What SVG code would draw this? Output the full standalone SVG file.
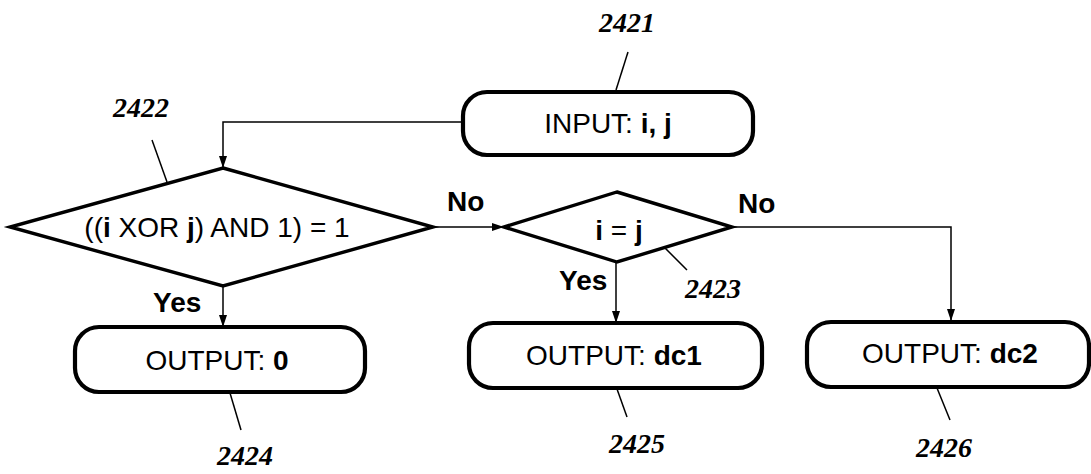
<svg xmlns="http://www.w3.org/2000/svg" width="1091" height="474" viewBox="0 0 1091 474">
  <style>
    .box { fill: #fff; stroke: #000; stroke-width: 4.2; }
    .dia { fill: #fff; stroke: #000; stroke-width: 3.4; stroke-linejoin: miter; }
    .wire { fill: none; stroke: #000; stroke-width: 1.5; }
    .lead { fill: none; stroke: #000; stroke-width: 1.5; }
    .t { font-family: "Liberation Sans", Arial, sans-serif; font-size: 28px; fill: #000; text-anchor: middle; }
    .b { font-weight: bold; }
    .lbl { font-family: "Liberation Sans", Arial, sans-serif; font-size: 28px; font-weight: bold; fill: #000; }
    .ref { font-family: "Liberation Serif", "Times New Roman", serif; font-size: 28px; font-weight: bold; font-style: italic; fill: #000; text-anchor: middle; }
  </style>
  <defs>
    <marker id="arrow" viewBox="0 0 12 8" refX="12" refY="4" markerWidth="12" markerHeight="8" markerUnits="userSpaceOnUse" orient="auto">
      <path d="M0,0 L12,4 L0,8 Z" fill="#000"/>
    </marker>
  </defs>

  <!-- connectors -->
  <g id="connectors">
    <polyline class="wire" points="463,122 223,122 223,168" marker-end="url(#arrow)"/>
    <line class="wire" x1="433" y1="227" x2="504" y2="227" marker-end="url(#arrow)"/>
    <line class="wire" x1="223" y1="286" x2="223" y2="327" marker-end="url(#arrow)"/>
    <line class="wire" x1="616" y1="262" x2="616" y2="323" marker-end="url(#arrow)"/>
    <polyline class="wire" points="732,227 951,227 951,321" marker-end="url(#arrow)"/>
    <text class="lbl" x="447" y="211">No</text>
    <text class="lbl" x="738" y="213">No</text>
    <text class="lbl" x="153" y="312">Yes</text>
    <text class="lbl" x="559" y="290">Yes</text>
  </g>

  <!-- start: input -->
  <g id="n2421">
    <rect class="box" x="463" y="92" width="290" height="63" rx="24" ry="24"/>
    <text class="t" x="608" y="133">INPUT: <tspan class="b">i, j</tspan></text>
    <line class="lead" x1="628" y1="52" x2="616" y2="90"/>
    <text class="ref" x="627" y="32">2421</text>
  </g>

  <!-- parity test -->
  <g id="n2422">
    <polygon class="dia" points="223,168 433,227 223,286 10,227"/>
    <text class="t" x="217" y="237">((<tspan class="b">i</tspan> XOR <tspan class="b">j</tspan>) AND 1) = 1</text>
    <line class="lead" x1="152" y1="140" x2="167" y2="182"/>
    <text class="ref" x="141" y="117">2422</text>
  </g>

  <!-- equality test -->
  <g id="n2423">
    <polygon class="dia" points="617,192 732,227 617,262 504,227"/>
    <text class="t" x="619" y="240"><tspan class="b">i</tspan> = <tspan class="b">j</tspan></text>
    <line class="lead" x1="665" y1="248" x2="687" y2="270"/>
    <text class="ref" x="713" y="298">2423</text>
  </g>

  <!-- output 0 -->
  <g id="n2424">
    <rect class="box" x="75" y="327" width="290" height="65" rx="24" ry="24"/>
    <text class="t" x="217" y="370">OUTPUT: <tspan class="b">0</tspan></text>
    <line class="lead" x1="230" y1="393" x2="241" y2="430"/>
    <text class="ref" x="245" y="465">2424</text>
  </g>

  <!-- output dc1 -->
  <g id="n2425">
    <rect class="box" x="469" y="323" width="293" height="65" rx="24" ry="24"/>
    <text class="t" x="614" y="365">OUTPUT: <tspan class="b">dc1</tspan></text>
    <line class="lead" x1="617" y1="389" x2="627" y2="417"/>
    <text class="ref" x="637" y="453">2425</text>
  </g>

  <!-- output dc2 -->
  <g id="n2426">
    <rect class="box" x="807" y="322" width="282" height="65" rx="24" ry="24"/>
    <text class="t" x="950" y="363">OUTPUT: <tspan class="b">dc2</tspan></text>
    <line class="lead" x1="937" y1="388" x2="950" y2="420"/>
    <text class="ref" x="944" y="457">2426</text>
  </g>
</svg>
